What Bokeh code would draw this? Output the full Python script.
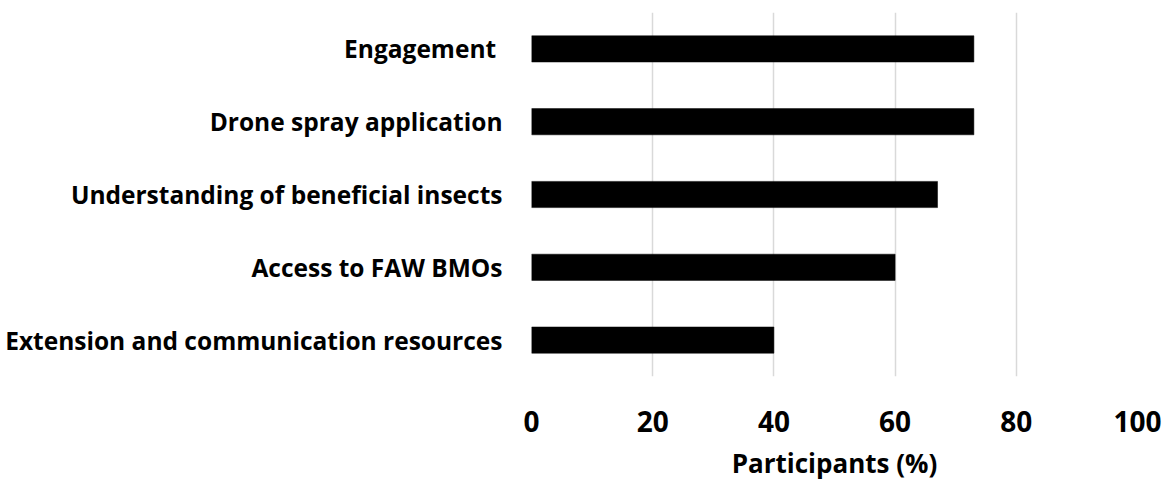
from bokeh.plotting import figure
from bokeh.models import FactorRange, Range1d, FixedTicker, ColumnDataSource
from bokeh.embed import file_html
from bokeh.resources import INLINE

# Data (top to bottom in the reference)
categories = [
    "Engagement ",
    "Drone spray application",
    "Understanding of beneficial insects",
    "Access to FAW BMOs",
    "Extension and communication resources",
]
values = [73, 73, 67, 60, 40]
x_ticks = [0, 20, 40, 60, 80, 100]

factors = list(reversed(categories))
source = ColumnDataSource(data=dict(cat=categories, val=values))

FONT = "Open Sans"

p = figure(
    width=1174, height=483,
    y_range=FactorRange(factors=factors, range_padding=0),
    x_range=Range1d(0, 100),
    output_backend="svg", toolbar_location=None,
    min_border_left=531, min_border_right=37,
    min_border_top=12, min_border_bottom=104,
)

p.hbar(y="cat", right="val", left=0, height=0.36, source=source,
       fill_color="black", line_color="black", line_width=0.5)

p.outline_line_color = None
p.background_fill_color = "white"
p.border_fill_color = "white"

# grids
p.ygrid.grid_line_color = None
p.xgrid.grid_line_color = "#d9d9d9"
p.xgrid.grid_line_width = 1.5
p.xgrid.ticker = FixedTicker(ticks=x_ticks)

# x axis
p.xaxis.ticker = FixedTicker(ticks=x_ticks)
p.xaxis.axis_line_color = None
p.xaxis.major_tick_line_color = None
p.xaxis.minor_tick_line_color = None
p.xaxis.major_tick_out = 0
p.xaxis.major_label_standoff = 34
p.xaxis.major_label_text_font = FONT
p.xaxis.major_label_text_font_style = "bold"
p.xaxis.major_label_text_font_size = "28px"
p.xaxis.major_label_text_color = "black"
p.xaxis.axis_label = "Participants (%)"
p.xaxis.axis_label_text_font = FONT
p.xaxis.axis_label_text_font_style = "bold"
p.xaxis.axis_label_text_font_size = "26px"
p.xaxis.axis_label_text_color = "black"
p.xaxis.axis_label_standoff = 10

# y axis
p.yaxis.axis_line_color = None
p.yaxis.major_tick_line_color = None
p.yaxis.minor_tick_line_color = None
p.yaxis.major_tick_out = 0
p.yaxis.major_label_standoff = 29
p.yaxis.major_label_text_font = FONT
p.yaxis.major_label_text_font_style = "bold"
p.yaxis.major_label_text_font_size = "24.5px"
p.yaxis.major_label_text_color = "black"

open("out.html", "w").write(file_html(p, INLINE))
